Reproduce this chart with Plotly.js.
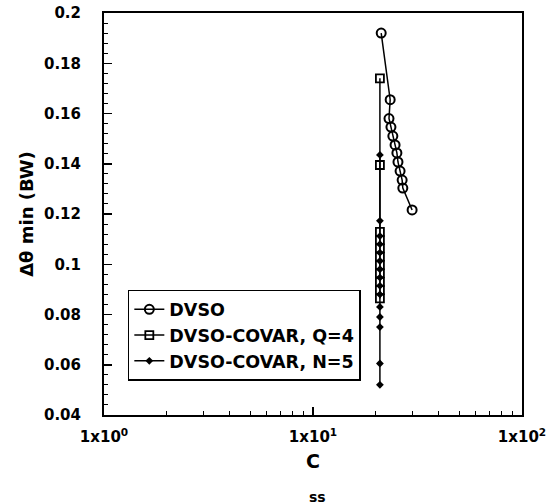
<!DOCTYPE html>
<html>
<head>
<meta charset="utf-8">
<script src="https://cdn.plot.ly/plotly-3.0.1.min.js"></script>
<style>
  html, body { margin: 0; padding: 0; background: #fff; }
  #chart { width: 552px; height: 504px; }
</style>
</head>
<body>
<div id="chart"></div>
<script>
// DVSO: minimum resolvable angle vs C_ss
const dvsoX = [21.2, 23.4, 23.1, 23.6, 24.1, 24.7, 25.2, 25.5, 26.1, 26.7, 26.9, 29.8];
const dvsoY = [0.192, 0.1655, 0.158, 0.1546, 0.151, 0.1475, 0.1443, 0.1407, 0.1371, 0.1335, 0.1303, 0.1216];

// DVSO-COVAR with Q = 4
const covarQX = [20.9, 20.9, 20.9, 20.9, 20.9, 20.9, 20.9, 20.9, 20.9, 20.9, 20.9];
const covarQY = [0.174, 0.1395, 0.1129, 0.1096, 0.1063, 0.103, 0.0997, 0.0964, 0.093, 0.0897, 0.0864];

// DVSO-COVAR with N = 5
const covarNX = [20.9, 20.9, 20.9, 20.9, 20.9, 20.9, 20.9, 20.9, 20.9, 20.9, 20.9, 20.9, 20.9, 20.9, 20.9];
const covarNY = [0.1435, 0.1173, 0.1112, 0.108, 0.1046, 0.1013, 0.098, 0.0947, 0.0914, 0.088, 0.083, 0.079, 0.075, 0.0605, 0.052];

const xTickVals = [1, 10, 100];
const xTickText = ['1x10<sup>0</sup>', '1x10<sup>1</sup>', '1x10<sup>2</sup>'];
const xMinorVals = [2, 3, 4, 5, 6, 7, 8, 9, 20, 30, 40, 50, 60, 70, 80, 90];
const yTickVals = [0.04, 0.06, 0.08, 0.1, 0.12, 0.14, 0.16, 0.18, 0.2];

const FONT = 'DejaVu Sans, Arial, Helvetica, sans-serif';

const traces = [
  {
    x: dvsoX, y: dvsoY, name: 'DVSO', type: 'scatter', mode: 'lines+markers',
    line: { color: '#000', width: 1.5 },
    marker: { symbol: 'circle-open', size: 9, color: '#000', line: { width: 2, color: '#000' } }
  },
  {
    x: covarQX, y: covarQY, name: 'DVSO-COVAR, Q=4', type: 'scatter', mode: 'lines+markers',
    line: { color: '#000', width: 1.5 },
    marker: { symbol: 'square-open', size: 8, color: '#000', line: { width: 1.8, color: '#000' } }
  },
  {
    x: covarNX, y: covarNY, name: 'DVSO-COVAR, N=5', type: 'scatter', mode: 'lines+markers',
    line: { color: '#000', width: 1.5 },
    marker: { symbol: 'diamond', size: 6, color: '#000' }
  }
];

const layout = {
  width: 552, height: 504,
  paper_bgcolor: '#fff', plot_bgcolor: '#fff',
  margin: { l: 104, r: 30, t: 13, b: 89 },
  font: { family: FONT, color: '#000', size: 15, weight: 'bold' },
  showlegend: true,
  legend: {
    x: 0.057, y: 0.311, xanchor: 'left', yanchor: 'top',
    bgcolor: '#fff', bordercolor: '#000', borderwidth: 1.5,
    font: { family: FONT, size: 17.5, color: '#000', weight: 'bold' },
    itemwidth: 30, tracegroupgap: 0
  },
  xaxis: {
    type: 'log', range: [0, 2],
    tickmode: 'array', tickvals: xTickVals, ticktext: xTickText,
    ticks: 'inside', ticklen: 8, tickwidth: 1.5, tickcolor: '#000',
    minor: { tickmode: 'array', tickvals: xMinorVals, ticks: 'inside', ticklen: 4, tickwidth: 1, tickcolor: '#000', showgrid: false },
    showline: true, linecolor: '#000', linewidth: 2, mirror: true,
    showgrid: false, zeroline: false,
    tickfont: { family: FONT, size: 15, color: '#000', weight: 'bold' },
    ticklabelstandoff: 7,
    title: { text: 'C', font: { family: FONT, size: 19, color: '#000', weight: 'bold' }, standoff: 10 }
  },
  yaxis: {
    range: [0.04, 0.2],
    tickmode: 'array', tickvals: yTickVals,
    ticks: 'inside', ticklen: 8, tickwidth: 1.5, tickcolor: '#000',
    minor: { tick0: 0.04, dtick: 0.004, ticks: 'inside', ticklen: 4, tickwidth: 1, tickcolor: '#000', showgrid: false },
    showline: true, linecolor: '#000', linewidth: 2, mirror: true,
    showgrid: false, zeroline: false,
    tickfont: { family: FONT, size: 15, color: '#000', weight: 'bold' },
    ticklabelstandoff: 18,
    title: { text: 'Δθ min (BW)', font: { family: FONT, size: 18, color: '#000', weight: 'bold' }, standoff: 6 }
  },
  annotations: [
    {
      // subscript of the x-axis symbol, set well below the letter
      text: 'ss', xref: 'paper', yref: 'paper', x: 0.51, y: -0.205,
      xanchor: 'center', yanchor: 'middle', showarrow: false,
      font: { family: FONT, size: 14, color: '#000', weight: 'bold' }
    }
  ]
};

Plotly.newPlot('chart', traces, layout, { displayModeBar: false, staticPlot: true });
</script>
</body>
</html>
